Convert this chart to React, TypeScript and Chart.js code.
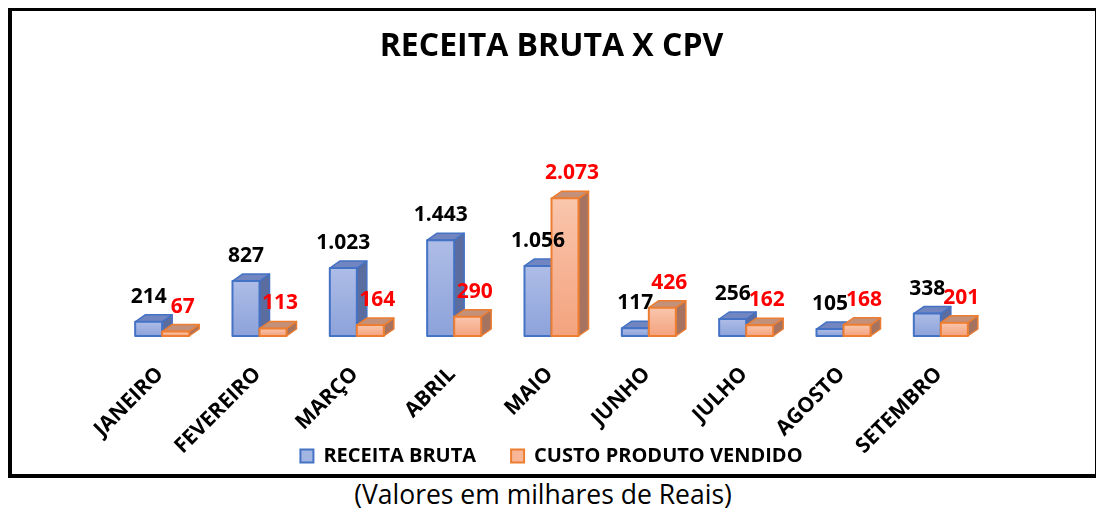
import React, { useEffect, useRef } from "react";
import { Chart, registerables } from "chart.js";

Chart.register(...registerables);

const months = ["JANEIRO", "FEVEREIRO", "MARÇO", "ABRIL", "MAIO", "JUNHO", "JULHO", "AGOSTO", "SETEMBRO"];
const receitaBruta = [214, 827, 1023, 1443, 1056, 117, 256, 105, 338];
const custoProduto = [67, 113, 164, 290, 2073, 426, 162, 168, 201];
const seriesNames = ["RECEITA BRUTA", "CUSTO PRODUTO VENDIDO"];
const chartTitle = "RECEITA BRUTA X CPV";
const subtitle = "(Valores em milhares de Reais)";

const FONT = "'Open Sans', 'Noto Sans', sans-serif";

const styles = [
  { top: "#7186c0", side: "#5a6d9e", frontTop: "#aebde7", frontBottom: "#8ca2da", border: "#4472C4", label: "#000000", legend: "#a3b5e3", labelDx: 0 },
  { top: "#c39079", side: "#a5735f", frontTop: "#f9c6ad", frontBottom: "#f4a27e", border: "#ED7D31", label: "#FF0000", legend: "#f7b697", labelDx: 7 },
];

function fmt(n: number): string {
  return String(n).replace(/\B(?=(\d{3})+(?!\d))/g, ".");
}

const bars3d = {
  id: "bars3d",
  afterDatasetsDraw(chart: any) {
    const ctx = chart.ctx as CanvasRenderingContext2D;
    const DX = 10, DY = 7;
    const n = chart.data.labels.length;
    ctx.save();
    ctx.lineJoin = "round";
    for (let i = 0; i < n; i++) {
      for (let d = 0; d < chart.data.datasets.length; d++) {
        const el = chart.getDatasetMeta(d).data[i];
        const st = styles[d];
        const { x, y, base, width } = el.getProps(["x", "y", "base", "width"], true);
        const l = x - width / 2, r = x + width / 2;
        ctx.lineWidth = 1.5;
        ctx.strokeStyle = st.border;
        // side face
        ctx.beginPath();
        ctx.moveTo(r, y);
        ctx.lineTo(r + DX, y - DY);
        ctx.lineTo(r + DX, base - DY);
        ctx.lineTo(r, base);
        ctx.closePath();
        ctx.fillStyle = st.side;
        ctx.fill();
        ctx.stroke();
        // top face
        ctx.beginPath();
        ctx.moveTo(l, y);
        ctx.lineTo(l + DX, y - DY);
        ctx.lineTo(r + DX, y - DY);
        ctx.lineTo(r, y);
        ctx.closePath();
        ctx.fillStyle = st.top;
        ctx.fill();
        ctx.stroke();
        // front face
        const g = ctx.createLinearGradient(0, y, 0, base);
        g.addColorStop(0, st.frontTop);
        g.addColorStop(1, st.frontBottom);
        ctx.fillStyle = g;
        ctx.fillRect(l, y, width, base - y);
        ctx.lineWidth = 2;
        ctx.strokeRect(l, y, width, base - y);
      }
    }
    // value labels
    ctx.font = `bold 21px ${FONT}`;
    ctx.textAlign = "center";
    ctx.textBaseline = "middle";
    for (let d = 0; d < chart.data.datasets.length; d++) {
      const meta = chart.getDatasetMeta(d);
      const st = styles[d];
      ctx.fillStyle = st.label;
      meta.data.forEach((el: any, i: number) => {
        const { x, y } = el.getProps(["x", "y"], true);
        ctx.fillText(fmt(chart.data.datasets[d].data[i]), x + st.labelDx, y - DY - 18);
      });
    }
    // rotated category labels
    const xs = chart.scales.x;
    ctx.font = `bold 21px ${FONT}`;
    ctx.textAlign = "right";
    ctx.textBaseline = "middle";
    ctx.fillStyle = "#000";
    chart.data.labels.forEach((lab: string, i: number) => {
      const px = xs.getPixelForTick(i);
      ctx.save();
      ctx.translate(px - 2, xs.top + 35);
      ctx.rotate(-Math.PI / 4);
      ctx.fillText(lab, 0, 0);
      ctx.restore();
    });
    ctx.restore();
  },
};

export default function App() {
  const ref = useRef<HTMLCanvasElement | null>(null);
  useEffect(() => {
    if (!ref.current) return;
    const chart = new Chart(ref.current, {
      type: "bar",
      data: {
        labels: months,
        datasets: [
          { label: seriesNames[0], data: receitaBruta, backgroundColor: "rgba(0,0,0,0)", borderWidth: 0 },
          { label: seriesNames[1], data: custoProduto, backgroundColor: "rgba(0,0,0,0)", borderWidth: 0 },
        ],
      },
      options: {
        responsive: false,
        animation: false,
        devicePixelRatio: 1,
        layout: { padding: { left: 101.5, right: 105.5, top: 0, bottom: 0 } },
        datasets: { bar: { categoryPercentage: 0.555, barPercentage: 1 } },
        scales: {
          x: {
            grid: { display: false, drawTicks: false },
            border: { display: false },
            ticks: { display: false },
            afterFit(scale: any) {
              scale.height = 75;
            },
          },
          y: { display: false, min: 0, max: 2500 },
        },
        plugins: {
          tooltip: { enabled: false },
          title: {
            display: true,
            text: chartTitle,
            color: "#000",
            font: { family: FONT, size: 32, weight: "bold", lineHeight: 1.2 },
            padding: { top: 16.8, bottom: 103.8 },
          },
          legend: {
            display: true,
            position: "bottom",
            labels: {
              boxWidth: 13,
              boxHeight: 13,
              padding: 35,
              color: "#000",
              font: { family: FONT, size: 20, weight: "bold" },
              generateLabels: () =>
                seriesNames.map((name, i) => ({
                  text: name,
                  fillStyle: styles[i].legend,
                  strokeStyle: styles[i].border,
                  lineWidth: 2,
                  hidden: false,
                  datasetIndex: i,
                })),
            },
          },
        },
      },
      plugins: [bars3d],
    } as any);
    return () => chart.destroy();
  }, []);

  return (
    <div style={{ marginTop: -1 }}>
      <div
        style={{
          width: 1091,
          height: 471,
          border: "4px solid #000",
          boxSizing: "border-box",
          background: "#fff",
        }}
      >
        <canvas ref={ref} width={1083} height={465} style={{ display: "block", position: "relative" }} />
      </div>
      <div
        style={{
          width: 1070,
          textAlign: "center",
          fontFamily: FONT,
          fontSize: 26.5,
          lineHeight: "30px",
          marginTop: 1,
          color: "#000",
        }}
      >
        {subtitle}
      </div>
    </div>
  );
}
